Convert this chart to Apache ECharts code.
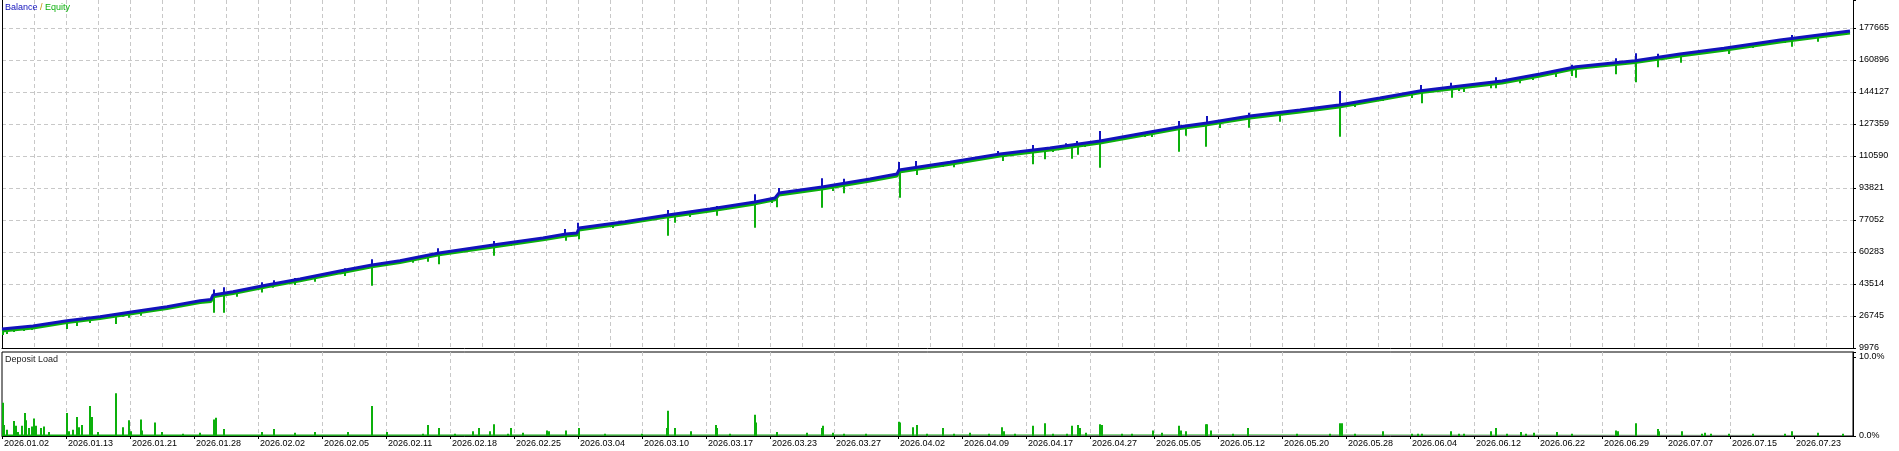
<!DOCTYPE html>
<html>
<head>
<meta charset="utf-8">
<script src="https://cdn.jsdelivr.net/npm/echarts@6/dist/echarts.min.js"></script>
<style>
html,body{margin:0;padding:0;background:#fff;}
#c{width:1899px;height:451px;}
</style>
</head>
<body>
<div id="c"></div>
<script>
// ---------- tick labels ----------
const dateLabels = ['2026.01.02','2026.01.13','2026.01.21','2026.01.28','2026.02.02','2026.02.05','2026.02.11','2026.02.18','2026.02.25','2026.03.04','2026.03.10','2026.03.17','2026.03.23','2026.03.27','2026.04.02','2026.04.09','2026.04.17','2026.04.27','2026.05.05','2026.05.12','2026.05.20','2026.05.28','2026.06.04','2026.06.12','2026.06.22','2026.06.29','2026.07.07','2026.07.15','2026.07.23'];
const balanceTickLabels = ['9976','26745','43514','60283','77052','93821','110590','127359','144127','160896','177665'];
const loadTickLabels = ['0.0%','10.0%'];
const legendNames = ['Balance','Equity'];
const loadTitle = 'Deposit Load';

// ---------- balance / equity (x = deal number) ----------
const balanceDeal  = [0,31,65,98,131,165,198,209,211,231,265,298,338,370,398,437,498,541,564,575,577,623,666,708,753,773,777,820,868,895,897,948,998,1048,1098,1148,1178,1205,1248,1298,1337,1378,1419,1458,1500,1538,1574,1633,1678,1722,1778,1848];
const balanceValue = [19940,21510,24290,26390,29010,31630,34770,35400,37760,39490,43000,46140,50330,53480,55730,59770,64480,67630,69720,70250,72860,76170,79680,82820,86490,88590,91210,94350,98540,101160,103260,107290,111640,114790,118450,123170,125950,127890,131550,134700,137320,140990,144810,147270,149890,153560,157390,160530,164040,167030,171380,176090];
const equityValue  = [18940,20510,23290,25390,28010,30630,33770,34400,36760,38490,42000,45140,49330,52480,54730,58770,63480,66630,68720,69250,71860,75170,78680,81820,85490,87590,90210,93350,97540,100160,102260,106290,110640,113790,117450,122170,124950,126890,130550,133700,136320,139990,143810,146270,148890,152560,156390,159530,163040,166030,170380,175090];

// equity dips (downward green strokes)
const dipDeal = [1,5,12,22,30,38,65,75,88,96,114,121,127,139,162,212,222,235,260,271,293,313,343,370,383,411,426,437,476,492,509,519,564,568,577,611,666,673,688,715,753,770,775,820,831,842,864,898,906,915,941,952,972,1001,1031,1043,1051,1064,1070,1076,1083,1098,1111,1143,1150,1177,1184,1204,1218,1247,1278,1338,1353,1381,1410,1420,1450,1457,1462,1489,1494,1502,1518,1531,1554,1570,1574,1614,1634,1656,1679,1727,1751,1783,1790,1816];
const dipBase = [19940,20200,20470,20990,21510,22040,24290,24920,25700,26230,27640,28330,28690,29640,31470,37760,38540,39850,42470,43520,45620,47710,50860,53480,54530,57140,58460,59770,62390,63960,65270,66060,69720,69990,72860,75750,79680,80200,81250,83340,86490,88330,88590,94350,95400,96450,98280,103260,103780,104570,106670,107550,109280,111850,114000,114470,114990,115940,116360,116880,117250,118450,119660,122650,123330,125890,126420,127890,128930,131550,133650,137320,138890,141250,143970,144860,146750,147270,147540,149210,149580,150110,151620,152880,155290,156970,157390,159530,160530,162260,164040,167400,169280,171690,172160,174000];
const dipLow  = [16800,17320,18370,18890,19420,20470,19940,21510,23090,25180,22560,26390,25870,26910,29900,28480,28480,36870,39070,41580,43000,44730,47710,42630,52950,54680,55210,53840,61340,58350,63440,64480,66210,68150,66950,72870,68830,75650,78630,79310,73020,85970,83710,83500,92260,91050,97500,88740,102210,100640,104830,104670,108500,107970,106250,108860,112690,114780,109180,111280,115310,104460,118980,120550,120550,112850,121230,115470,125270,125420,128570,120710,136270,139410,140990,138210,141140,144650,144130,146070,146070,148320,148690,150420,151990,152520,151630,153400,149210,157070,159480,164040,167180,169810,167870,170490];

// balance spikes (upward blue strokes)
const spikeDeal = [212,222,260,272,293,343,370,436,492,563,576,666,715,753,777,820,842,897,914,996,1031,1064,1075,1098,1177,1205,1247,1338,1419,1449,1494,1570,1614,1634,1656,1790];
const spikeBase = [37760,38540,42470,43520,45620,50860,53480,59770,63960,69720,72860,79680,83340,86490,91210,94350,96450,103260,104570,111330,114000,115940,116780,118450,125890,127890,131550,137320,144810,146750,149580,156970,159530,160530,162260,172160];
const spikeTop  = [40640,41790,44410,45460,46670,51750,56470,62230,66050,72340,75640,82300,84390,90530,93830,98910,98700,107450,107970,113210,116360,117250,118450,123700,128930,131550,133280,144650,147800,149000,151830,158430,161790,164410,164200,174000];

// ---------- deposit load (%) ----------
const loadDeal  = [1,2,5,12,14,16,20,23,24,27,30,32,34,39,42,47,65,67,71,75,77,80,88,90,96,114,121,127,129,139,140,153,160,181,198,212,214,222,260,272,293,313,346,370,385,421,426,437,453,471,477,488,492,506,509,521,545,547,564,577,603,640,665,666,673,689,714,715,728,753,754,775,805,820,821,831,842,864,897,898,911,915,925,941,952,968,987,1000,1002,1013,1031,1043,1051,1065,1070,1076,1078,1084,1098,1100,1120,1130,1151,1160,1177,1179,1184,1204,1205,1209,1231,1246,1295,1328,1338,1340,1353,1381,1410,1416,1420,1449,1457,1462,1489,1494,1505,1519,1524,1532,1555,1570,1614,1616,1634,1656,1657,1680,1700,1703,1709,1727,1751,1783,1790,1816,1841];
const loadValue = [4.2,1.4,0.8,1.9,1.3,0.5,1.3,2.9,2.0,1.0,1.2,2.2,1.3,1.0,1.2,0.5,2.9,0.6,0.8,2.4,1.1,1.4,3.8,2.4,0.5,5.4,1.1,2.0,0.6,2.1,0.7,1.7,0.5,0.3,0.4,2.1,2.3,0.9,0.5,0.9,0.4,0.5,0.5,3.8,0.5,0.3,1.4,1.0,0.3,0.6,1.0,0.6,1.5,0.3,1.0,0.4,0.7,0.6,0.7,1.0,0.3,0.3,1.0,3.2,1.0,0.6,1.4,1.0,0.3,2.7,1.7,0.5,0.4,1.0,1.3,0.4,0.3,0.3,1.8,1.7,1.1,1.4,0.3,1.0,0.3,0.4,0.3,1.1,0.6,0.3,1.3,1.6,0.3,0.3,1.3,1.4,1.0,0.4,1.5,1.4,0.3,0.3,0.7,0.4,1.3,0.7,0.6,1.5,1.5,0.7,0.3,1.0,0.3,0.3,1.6,1.6,0.3,0.6,0.3,0.3,0.3,0.6,0.3,0.3,0.6,1.0,0.3,0.5,0.3,0.4,0.5,0.3,0.7,0.6,1.6,0.9,0.6,0.6,0.3,0.4,0.3,0.3,0.3,0.3,0.6,0.4,0.3];
const loadFloorDeal  = [0,1848];
const loadFloorValue = [0.2,0.2];

// ---------- styling ----------
const BLUE = '#1212bc', GREEN = '#0cb00c', GRID = '#c8c8c8';
const FONT = "'Liberation Sans', Arial, sans-serif";
const Y_MIN = 9976, Y_STEP = 16768.9, MAIN_H = 348;
const Y_MAX = Y_MIN + Y_STEP * MAIN_H / 32;
const DEAL_MAX = 1851;
const LOAD_MAX = 10.63;

const dashed = { show: true, lineStyle: { color: GRID, type: [4, 3], width: 1 }, showMinLine: false, showMaxLine: false };
const labelPositions = dateLabels.map((_, i) => i * 64);

function strokeItem(color) {
  return function (params, api) {
    const a = api.coord([api.value(0), api.value(1)]);
    const b = api.coord([api.value(0), api.value(2)]);
    return { type: 'line', shape: { x1: a[0], y1: a[1], x2: b[0], y2: b[1] }, style: { stroke: color, lineWidth: 2 } };
  };
}

const chart = echarts.init(document.getElementById('c'), null, { renderer: 'canvas' });
chart.setOption({
  animation: false,
  backgroundColor: '#fff',
  title: [
    { left: 5, top: 3, padding: 0,
      text: '{b|' + legendNames[0] + '} {s|/} {e|' + legendNames[1] + '}',
      textStyle: { fontSize: 9, fontFamily: FONT, fontWeight: 'normal',
        rich: { b: { color: BLUE, fontSize: 9, fontFamily: FONT }, s: { color: '#c09000', fontSize: 9, fontFamily: FONT }, e: { color: GREEN, fontSize: 9, fontFamily: FONT } } } },
    { left: 5, top: 355, padding: 0, text: loadTitle,
      textStyle: { fontSize: 9, fontFamily: FONT, fontWeight: 'normal', color: '#222' } }
  ],
  grid: [
    { left: 2, right: 46, top: 0, height: MAIN_H, outerBoundsMode: 'none', containLabel: false },
    { left: 2, right: 46, top: 352, height: 84, outerBoundsMode: 'none', containLabel: false,
      show: true, borderColor: '#000', borderWidth: 1, backgroundColor: 'transparent' }
  ],
  xAxis: [
    { type: 'value', gridIndex: 0, min: 0, max: DEAL_MAX, interval: 32, position: 'bottom',
      axisLine: { show: true, onZero: false, lineStyle: { color: '#000', width: 1 } },
      axisTick: { show: false }, axisLabel: { show: false }, splitLine: dashed },
    { type: 'value', gridIndex: 1, min: 0, max: DEAL_MAX, interval: 32, position: 'bottom',
      axisLine: { show: true, onZero: false, lineStyle: { color: '#000', width: 1 } },
      axisTick: { show: true, length: 3, customValues: labelPositions, lineStyle: { color: '#000' } },
      axisLabel: { show: true, customValues: labelPositions, align: 'left', margin: 3,
        fontSize: 9, fontFamily: FONT, color: '#000', padding: [0, 0, 0, 2],
        formatter: function (v) { const i = Math.round(v / 64); return Math.abs(i * 64 - v) < 0.5 && dateLabels[i] ? dateLabels[i] : ''; } },
      splitLine: dashed }
  ],
  yAxis: [
    { type: 'value', gridIndex: 0, min: Y_MIN, max: Y_MAX, interval: Y_STEP, position: 'right',
      axisLine: { show: true, onZero: false, lineStyle: { color: '#000', width: 1 } },
      axisTick: { show: true, length: 3, lineStyle: { color: '#000' } },
      axisLabel: { show: true, margin: 6, fontSize: 9, fontFamily: FONT, color: '#000', padding: [2, 0, 0, 0],
        formatter: function (v) { const i = Math.round((v - Y_MIN) / Y_STEP); return Math.abs(Y_MIN + i * Y_STEP - v) < 1 && balanceTickLabels[i] ? balanceTickLabels[i] : ''; } },
      splitLine: dashed },
    { type: 'value', gridIndex: 0, min: Y_MIN, max: Y_MAX, interval: Y_STEP, position: 'left',
      axisLine: { show: true, onZero: false, lineStyle: { color: '#000', width: 1 } },
      axisTick: { show: false }, axisLabel: { show: false }, splitLine: { show: false } },
    { type: 'value', gridIndex: 1, min: 0, max: LOAD_MAX, interval: 10, position: 'right',
      axisLine: { show: true, onZero: false, lineStyle: { color: '#000', width: 1 } },
      axisTick: { show: true, length: 3, lineStyle: { color: '#000' } },
      axisLabel: { show: true, margin: 6, fontSize: 9, fontFamily: FONT, color: '#000', padding: [2, 0, 0, 0],
        formatter: function (v) { const i = Math.round(v / 10); return Math.abs(i * 10 - v) < 0.01 && loadTickLabels[i] ? loadTickLabels[i] : ''; } },
      splitLine: { show: false } }
  ],
  series: [
    { name: legendNames[1], type: 'line', xAxisIndex: 0, yAxisIndex: 0, z: 2,
      showSymbol: false, symbol: 'none', silent: true,
      lineStyle: { color: GREEN, width: 3 },
      data: balanceDeal.map((d, i) => [d, equityValue[i]]) },
    { name: 'dips', type: 'custom', xAxisIndex: 0, yAxisIndex: 0, z: 2, silent: true,
      renderItem: strokeItem(GREEN), encode: { x: 0, y: [1, 2] },
      data: dipDeal.map((d, i) => [d, dipBase[i], dipLow[i]]) },
    { name: legendNames[0], type: 'line', xAxisIndex: 0, yAxisIndex: 0, z: 4,
      showSymbol: false, symbol: 'none', silent: true,
      lineStyle: { color: BLUE, width: 3 },
      data: balanceDeal.map((d, i) => [d, balanceValue[i]]) },
    { name: 'spikes', type: 'custom', xAxisIndex: 0, yAxisIndex: 0, z: 4, silent: true,
      renderItem: strokeItem(BLUE), encode: { x: 0, y: [1, 2] },
      data: spikeDeal.map((d, i) => [d, spikeBase[i], spikeTop[i]]) },
    { name: 'loadFloor', type: 'line', xAxisIndex: 1, yAxisIndex: 2, z: 2,
      showSymbol: false, symbol: 'none', silent: true,
      lineStyle: { width: 0, color: GREEN }, areaStyle: { color: GREEN, opacity: 1 },
      data: loadFloorDeal.map((d, i) => [d, loadFloorValue[i]]) },
    { name: loadTitle, type: 'bar', xAxisIndex: 1, yAxisIndex: 2, z: 3, silent: true,
      barWidth: 2, itemStyle: { color: GREEN },
      data: loadDeal.map((d, i) => [d, loadValue[i]]) }
  ]
});
</script>
</body>
</html>
